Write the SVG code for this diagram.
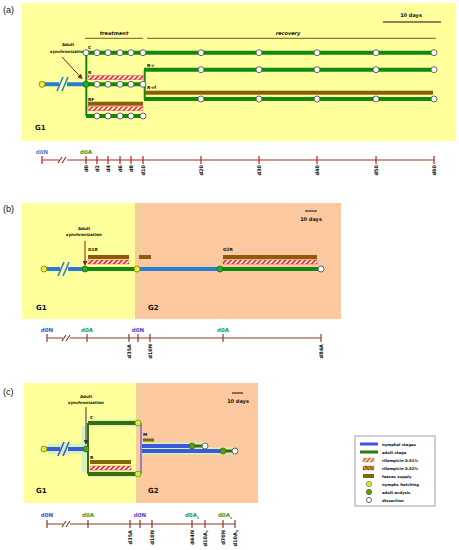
<svg xmlns="http://www.w3.org/2000/svg" width="459" height="550" viewBox="0 0 459 550">
<defs>
<pattern id="hatchR" patternUnits="userSpaceOnUse" width="3.5" height="3.5" patternTransform="rotate(45)">
<rect width="3.5" height="3.5" fill="#ffffff"/><rect width="1.8" height="3.5" fill="#f03030"/>
</pattern>
<pattern id="hatchL1" patternUnits="userSpaceOnUse" width="3" height="3" patternTransform="rotate(45)">
<rect width="3" height="3" fill="#fff4e0"/><rect width="1.4" height="3" fill="#a0641e"/>
</pattern>
<pattern id="hatchL2" patternUnits="userSpaceOnUse" width="3" height="3" patternTransform="rotate(-45)">
<rect width="3" height="3" fill="#f0a040"/><rect width="1.4" height="3" fill="#7a4a10"/>
</pattern>
<marker id="arr" viewBox="0 0 6 6" refX="5" refY="3" markerWidth="5" markerHeight="5" orient="auto">
<path d="M0,0 L6,3 L0,6 z" fill="#7a1f1f"/>
</marker>
<marker id="arrK" viewBox="0 0 6 6" refX="5" refY="3" markerWidth="5" markerHeight="5" orient="auto">
<path d="M0,0 L6,3 L0,6 z" fill="#333"/>
</marker>
</defs>
<style>
text{font-family:"DejaVu Sans","Liberation Sans",sans-serif;font-weight:bold;fill:#111}
.pl{font-family:"Liberation Sans",Arial,sans-serif;font-weight:normal;font-size:9px}
.g{font-size:7px}
.sm{font-size:4px}
.lb{font-size:4.3px}
.hd{font-size:5px;font-style:italic}
.tl{font-size:5px}
.tt{font-size:5.5px;text-anchor:middle}
.bl{fill:#3a86d6}
.bl2{fill:#4a4ad0}
.gr{fill:#2f9a2f}
.grn{stroke:#118811;stroke-width:4;fill:none}
.blu{stroke:#2a7ed2;stroke-width:4;fill:none}
.brn{fill:#8a5c0c}
.hat{fill:url(#hatchR);stroke:#e03030;stroke-width:0.4}
.dis{fill:#fff;stroke:#444;stroke-width:0.8}
.yel{fill:#f4f030;stroke:#7a7a20;stroke-width:0.8}
.ecd{fill:#22b022;stroke:#116611;stroke-width:0.8}
.tax{stroke:#b42222;stroke-width:1.2;fill:none}
.tax2{stroke:#8b3a2a;stroke-width:1.2;fill:none}
.mid{text-anchor:middle}
.c-bl{stroke:#3a5ad8;stroke-width:4;fill:none}
.c-gr{stroke:#3e6b0a;stroke-width:4;fill:none}
.halo{stroke:#d2f2be;stroke-width:10;fill:none}
.c-yel{fill:#d8f028;stroke:#6b8e23;stroke-width:0.8}
.c-ecd{fill:#5a9a1e;stroke:#3d6b10;stroke-width:0.8}
</style>

<g id="backgrounds">
<rect x="22" y="3" width="434" height="138" fill="#ffff9c"/>
<rect x="22" y="203" width="113" height="116" fill="#ffff9c"/>
<rect x="135" y="203" width="206" height="116" fill="#fcc8a0"/>
<rect x="135" y="203" width="8" height="100" fill="#f4cf98" opacity="0.6"/>
<rect x="24" y="383" width="112" height="120" fill="#ffff9c"/>
<rect x="136" y="383" width="122" height="120" fill="#fcc8a0"/>
<rect x="136" y="383" width="7" height="120" fill="#f4cf98" opacity="0.6"/>
</g>

<!-- ===== Panel (a) ===== -->
<g id="panel-a-labels">
<text class="pl" x="3" y="13">(a)</text>
<text class="g" x="35" y="130">G1</text>
<line x1="383" y1="22" x2="441" y2="22" stroke="#111" stroke-width="1"/>
<text class="hd mid" x="411" y="17" style="font-style:normal">10 days</text>
<line x1="85" y1="38.3" x2="143" y2="38.3" stroke="#8a7a40" stroke-width="1.3"/>
<text class="hd mid" x="114" y="35">treatment</text>
<line x1="147" y1="38.3" x2="436" y2="38.3" stroke="#8a7a40" stroke-width="1.3"/>
<text class="hd mid" x="288" y="35">recovery</text>
<text class="sm mid" x="68" y="45.5">Adult</text>
<text class="sm mid" x="68" y="53">synchronization</text>
</g>

<g id="connectors">
<!-- panel a lines -->
<line class="blu" x1="42" y1="84.3" x2="86" y2="84.3"/>
<rect x="59" y="78" width="8" height="12" fill="#ffff9c"/>
<line x1="57" y1="91" x2="63" y2="77" stroke="#2a7ed2" stroke-width="1.6"/>
<line x1="62" y1="91" x2="68" y2="77" stroke="#2a7ed2" stroke-width="1.6"/>
<path class="grn" d="M86.3,52.7 V116" style="stroke-width:2"/>
<line class="grn" x1="86" y1="52.7" x2="434" y2="52.7"/>
<line class="grn" x1="86" y1="84.3" x2="143" y2="84.3"/>
<line class="grn" x1="86" y1="116" x2="143" y2="116"/>
<path class="grn" d="M144.7,70 V99" style="stroke-width:2"/>
<line class="grn" x1="144" y1="69.7" x2="434" y2="69.7"/>
<line class="grn" x1="144" y1="99" x2="434" y2="99"/>
<line x1="62" y1="57" x2="82" y2="78.5" stroke="#7a1f1f" stroke-width="1" marker-end="url(#arr)"/>

<!-- panel b lines -->
<line class="blu" x1="44" y1="269" x2="85" y2="269"/>
<rect x="60" y="263" width="8" height="12" fill="#ffff9c"/>
<line x1="58" y1="276" x2="64" y2="262" stroke="#2a7ed2" stroke-width="1.6"/>
<line x1="63" y1="276" x2="69" y2="262" stroke="#2a7ed2" stroke-width="1.6"/>
<line class="grn" x1="85" y1="269" x2="137" y2="269"/>
<line class="blu" x1="137" y1="269" x2="220" y2="269"/>
<line class="grn" x1="220" y1="269" x2="321" y2="269"/>
<line x1="85" y1="241" x2="85" y2="265" stroke="#7a1f1f" stroke-width="1" marker-end="url(#arr)"/>

<!-- panel c lines -->
<path class="halo" d="M48,449 H84"/>
<path class="halo" d="M88,423 H139 M88,474 H139 M85,426 V472" style="stroke-width:7"/>
<path class="halo" d="M142,446 H206 M142,451 H236" style="stroke-width:7"/>
<line class="c-bl" x1="44" y1="449" x2="86" y2="449"/>
<rect x="60" y="443" width="8" height="12" fill="#d2f2be"/>
<line x1="58" y1="456" x2="64" y2="442" stroke="#3a5ad8" stroke-width="1.6"/>
<line x1="63" y1="456" x2="69" y2="442" stroke="#3a5ad8" stroke-width="1.6"/>
<path class="c-gr" d="M88,423 V474" style="stroke-width:2"/>
<line class="c-gr" x1="88" y1="423" x2="138" y2="423"/>
<line class="c-gr" x1="88" y1="474" x2="138" y2="474"/>
<path d="M141,423 V474" stroke="#7e63d6" stroke-width="1.5" fill="none"/>
<line class="c-bl" x1="142" y1="446" x2="192" y2="446"/>
<line class="c-gr" x1="192" y1="446" x2="205" y2="446" style="stroke-width:3"/>
<line class="c-bl" x1="142" y1="451" x2="223" y2="451"/>
<line class="c-gr" x1="223" y1="451" x2="235" y2="451" style="stroke-width:3"/>
<line x1="86" y1="407" x2="86" y2="444" stroke="#333" stroke-width="1" marker-end="url(#arrK)"/>
</g>

<g id="row-C">
<text class="lb" x="88" y="49">C</text>
<circle class="dis" cx="86" cy="52.7" r="3"/>
<circle class="dis" cx="97" cy="52.7" r="3"/>
<circle class="dis" cx="108" cy="52.7" r="3"/>
<circle class="dis" cx="120" cy="52.7" r="3"/>
<circle class="dis" cx="131" cy="52.7" r="3"/>
<circle class="dis" cx="143" cy="52.7" r="3"/>
<circle class="dis" cx="201" cy="52.7" r="3"/>
<circle class="dis" cx="259" cy="52.7" r="3"/>
<circle class="dis" cx="317" cy="52.7" r="3"/>
<circle class="dis" cx="376" cy="52.7" r="3"/>
<circle class="dis" cx="434" cy="52.7" r="3"/>
</g>

<g id="row-R">
<text class="lb" x="88" y="74">R</text>
<rect class="hat" x="88" y="75.7" width="55" height="4"/>
<circle class="yel" cx="42" cy="84.3" r="3"/>
<circle class="ecd" cx="86" cy="84.3" r="3"/>
<circle class="dis" cx="97" cy="84.3" r="3"/>
<circle class="dis" cx="108" cy="84.3" r="3"/>
<circle class="dis" cx="120" cy="84.3" r="3"/>
<circle class="dis" cx="131" cy="84.3" r="3"/>
<circle class="dis" cx="143" cy="84.3" r="3"/>
</g>

<g id="row-R-r">
<text class="lb" x="147" y="67">R-r</text>
<circle class="dis" cx="201" cy="69.7" r="3"/>
<circle class="dis" cx="259" cy="69.7" r="3"/>
<circle class="dis" cx="317" cy="69.7" r="3"/>
<circle class="dis" cx="376" cy="69.7" r="3"/>
<circle class="dis" cx="434" cy="69.7" r="3"/>
</g>

<g id="row-R-rf">
<text class="lb" x="147" y="89">R-rf</text>
<rect class="brn" x="145" y="90.7" width="288" height="4"/>
<circle class="dis" cx="201" cy="99" r="3"/>
<circle class="dis" cx="259" cy="99" r="3"/>
<circle class="dis" cx="317" cy="99" r="3"/>
<circle class="dis" cx="376" cy="99" r="3"/>
<circle class="dis" cx="434" cy="99" r="3"/>
</g>

<g id="row-RF">
<text class="lb" x="88" y="101">RF</text>
<rect class="brn" x="88" y="101.7" width="55" height="4"/>
<rect class="hat" x="88" y="106.7" width="55" height="4"/>
<circle class="dis" cx="97" cy="116" r="3"/>
<circle class="dis" cx="108" cy="116" r="3"/>
<circle class="dis" cx="120" cy="116" r="3"/>
<circle class="dis" cx="131" cy="116" r="3"/>
<circle class="dis" cx="143" cy="116" r="3"/>
</g>

<g id="timeline-a">
<path class="tax" d="M42,160 H59 M67,160 H434 M42,156 V164 M86,156 V164 M97,156 V164 M108,156 V164 M120,156 V164 M131,156 V164 M143,156 V164 M201,156 V164 M259,156 V164 M317,156 V164 M376,156 V164 M434,156 V164"/>
<path class="tax" d="M58,163 L62,157 M62,163 L66,157"/>
<text class="tt bl" x="42" y="154">d0N</text>
<text class="tt gr" x="86" y="154">d0A</text>
<g class="tl" text-anchor="end">
<text transform="translate(87.8,165) rotate(-90)">d0</text>
<text transform="translate(98.8,165) rotate(-90)">d2</text>
<text transform="translate(109.8,165) rotate(-90)">d4</text>
<text transform="translate(121.8,165) rotate(-90)">d6</text>
<text transform="translate(132.8,165) rotate(-90)">d8</text>
<text transform="translate(144.8,165) rotate(-90)">d10</text>
<text transform="translate(202.8,165) rotate(-90)">d20</text>
<text transform="translate(260.8,165) rotate(-90)">d30</text>
<text transform="translate(318.8,165) rotate(-90)">d40</text>
<text transform="translate(377.8,165) rotate(-90)">d50</text>
<text transform="translate(435.8,165) rotate(-90)">d60</text>
</g>
</g>

<!-- ===== Panel (b) ===== -->
<g id="panel-b-labels">
<text class="pl" x="3" y="212">(b)</text>
<text class="g" x="36" y="310">G1</text>
<text class="g" x="148" y="310">G2</text>
<line x1="305" y1="211" x2="317" y2="211" stroke="#111" stroke-width="1"/>
<text class="hd mid" x="311" y="221" style="font-style:normal">10 days</text>
<text class="sm mid" x="84" y="230">Adult</text>
<text class="sm mid" x="84" y="235.5">synchronization</text>
</g>

<g id="row-G1R">
<text class="lb" x="88" y="251">G1R</text>
<rect class="brn" x="88" y="255" width="41" height="4"/>
<rect class="hat" x="88" y="260" width="41" height="4"/>
<rect class="brn" x="139" y="255" width="12" height="4"/>
<circle class="yel" cx="44" cy="269" r="3"/>
<circle class="ecd" cx="85" cy="269" r="3"/>
<circle class="yel" cx="137" cy="269" r="3"/>
</g>

<g id="row-G2R">
<text class="lb" x="223" y="251">G2R</text>
<rect class="brn" x="223" y="255" width="94" height="4"/>
<rect class="hat" x="223" y="260" width="94" height="4"/>
<circle class="ecd" cx="220" cy="269" r="3"/>
<circle class="dis" cx="321" cy="269" r="3"/>
</g>

<g id="timeline-b">
<path class="tax2" d="M47,338 H63 M70,338 H321 M47,334 V342 M87,334 V342 M129,334 V342 M138,334 V342 M150,334 V342 M223,334 V342 M321,334 V342"/>
<path class="tax2" d="M62,341 L66,335 M66,341 L70,335"/>
<text class="tt bl2" x="47" y="332">d0N</text>
<text class="tt gr" x="87" y="332">d0A</text>
<text class="tt bl2" x="138" y="332">d0N</text>
<text class="tt gr" x="223" y="332">d0A</text>
<g class="tl" text-anchor="end">
<text transform="translate(130.8,344) rotate(-90)">d35A</text>
<text transform="translate(151.8,344) rotate(-90)">d10N</text>
<text transform="translate(322.8,344) rotate(-90)">d84A</text>
</g>
</g>

<!-- ===== Panel (c) ===== -->
<g id="panel-c-labels">
<text class="pl" x="3" y="395">(c)</text>
<text class="g" x="36" y="493">G1</text>
<text class="g" x="148" y="493">G2</text>
<line x1="232" y1="393" x2="243" y2="393" stroke="#111" stroke-width="1"/>
<text class="hd mid" x="238" y="403" style="font-style:normal">10 days</text>
<text class="sm mid" x="86" y="398">Adult</text>
<text class="sm mid" x="86" y="404">synchronization</text>
</g>

<g id="row-c-C">
<text class="lb" x="90" y="419">C</text>
<circle class="c-yel" cx="44" cy="449" r="3"/>
<circle class="c-ecd" cx="86" cy="449" r="3"/>
<circle class="c-yel" cx="138" cy="423" r="3"/>
</g>

<g id="row-c-R">
<text class="lb" x="90" y="459">R</text>
<rect x="90" y="460" width="41" height="4" fill="#7a6a08"/>
<rect class="hat" x="90" y="466" width="41" height="4"/>
<circle class="c-yel" cx="138" cy="474" r="3"/>
</g>

<g id="row-c-M">
<text class="lb" x="143" y="436">M</text>
<rect x="143" y="438.5" width="11" height="3" fill="#7a6a08"/>
<circle class="c-ecd" cx="192" cy="446" r="3"/>
<circle class="dis" cx="205" cy="446" r="3"/>
<circle class="c-ecd" cx="223" cy="451" r="3"/>
<circle class="dis" cx="235" cy="451" r="3"/>
</g>

<g id="timeline-c">
<path class="tax2" d="M47,524 H63 M70,524 H235 M47,520 V528 M88,520 V528 M130,520 V528 M140,520 V528 M152,520 V528 M192,520 V528 M205,520 V528 M223,520 V528 M235,520 V528"/>
<path class="tax2" d="M62,527 L66,521 M66,527 L70,521"/>
<text class="tt bl2" x="47" y="517">d0N</text>
<text class="tt gr" x="88" y="517">d0A</text>
<text class="tt bl2" x="140" y="517">d0N</text>
<text class="tt gr" x="192" y="517">d0A<tspan font-size="3.5" dy="1.5">c</tspan></text>
<text class="tt gr" x="225" y="517">d0A<tspan font-size="3.5" dy="1.5">s</tspan></text>
<g class="tl" text-anchor="end">
<text transform="translate(131.8,530) rotate(-90)">d35A</text>
<text transform="translate(153.8,530) rotate(-90)">d10N</text>
<text transform="translate(193.8,530) rotate(-90)">d44N</text>
<text transform="translate(206.8,530) rotate(-90)">d10A<tspan font-size="3.5" dy="1.5">c</tspan></text>
<text transform="translate(224.8,530) rotate(-90)">d70N</text>
<text transform="translate(236.8,530) rotate(-90)">d10A<tspan font-size="3.5" dy="1.5">s</tspan></text>
</g>
</g>

<!-- ===== Legend ===== -->
<g id="legend">
<rect x="355" y="436" width="80" height="70" fill="#fff" stroke="#888" stroke-width="0.8"/>
<rect x="360" y="442.5" width="18" height="3" fill="#3a5ad8"/>
<rect x="360" y="450.5" width="18" height="3" fill="#2e7a0e"/>
<rect x="363" y="458" width="11" height="4" fill="url(#hatchL1)" stroke="#a0641e" stroke-width="0.3"/>
<rect x="363" y="466" width="11" height="4" fill="url(#hatchL2)" stroke="#7a4a10" stroke-width="0.3"/>
<rect x="363" y="474" width="11" height="4" fill="#7a6a08"/>
<circle class="c-yel" cx="369" cy="484" r="2.6"/>
<circle class="c-ecd" cx="369" cy="492" r="2.6"/>
<circle class="dis" cx="369" cy="500" r="2.6"/>
<g class="sm" style="font-size:3.8px">
<text x="382" y="445.5">nymphal stages</text>
<text x="382" y="453.5">adult stage</text>
<text x="382" y="461.5">rifampicin 0.01%</text>
<text x="382" y="469.5">rifampicin 0.02%</text>
<text x="382" y="477.5">faeces supply</text>
<text x="382" y="485.5">nymphs hatching</text>
<text x="382" y="493.5">adult ecdysis</text>
<text x="382" y="501.5">dissection</text>
</g>
</g>
</svg>
